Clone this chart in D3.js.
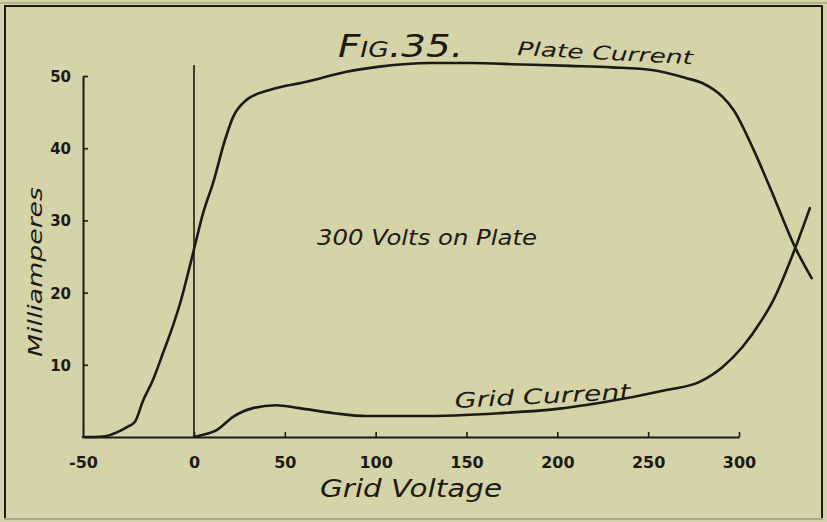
<!DOCTYPE html>
<html>
<head>
<meta charset="utf-8">
<script src="https://cdn.jsdelivr.net/npm/d3@7"></script>
<style>
  html, body { margin: 0; padding: 0; background: #d5d3a8; }
  svg { display: block; }
  .hand { font-family: "DejaVu Sans", sans-serif; font-style: italic; fill: #1d1a15; }
  .tick text { font-family: "DejaVu Sans", sans-serif; font-weight: bold; fill: #1d1a15; }
</style>
</head>
<body>
<script>
// Grid voltage tick values (volts) and plate-current tick values (milliamperes)
const voltTicks = [-50, 0, 50, 100, 150, 200, 250, 300];
const mATicks = [10, 20, 30, 40, 50];

// Plate current vs grid voltage, 300 volts on plate
const plateVolts = [-50, -45, -40, -35, -30, -26.6, -23, -18.5, -14, -9.5, -6, -3, 0, 5, 10.5, 17, 21.5, 29, 42, 62, 84, 102, 130, 152, 180, 207, 230, 253, 271, 280, 291, 297, 308, 317, 331, 340];
const plateMA    = [0, 0, 0.1, 0.6, 1.4, 2.1, 5.0, 7.9, 11.6, 15.4, 18.8, 22.3, 26, 31, 35.2, 41.1, 44.3, 46.7, 48.1, 49.2, 50.6, 51.3, 51.8, 51.8, 51.6, 51.4, 51.2, 50.8, 49.7, 49.0, 47.1, 45.3, 39.8, 34.6, 26.2, 22.0];

// Grid current vs grid voltage
const gridVolts = [0, 5, 12.7, 21.5, 32.5, 45, 58, 77, 95, 124, 168, 200, 223, 260, 278, 291, 302, 312, 319, 331, 339];
const gridMA    = [0, 0.3, 1.0, 2.8, 4.0, 4.4, 4.0, 3.3, 2.9, 2.9, 3.3, 3.9, 4.7, 6.5, 7.6, 9.7, 12.5, 16.0, 19.0, 26.2, 31.7];

const W = 827, H = 522;
const ink = "#1d1a15";

const svg = d3.select("body").append("svg")
  .attr("width", W).attr("height", H);

svg.append("rect").attr("width", W).attr("height", H).attr("fill", "#d5d3a8");

// Hand-ruled frame around the figure
const frame = svg.append("g").attr("fill", "none").attr("stroke-linecap", "square");
frame.append("line").attr("x1", 0).attr("x2", W).attr("y1", 3).attr("y2", 3)
  .attr("stroke", "#8d8b72").attr("stroke-width", 1);
frame.append("path").attr("d", `M5,518 L5,6 L822,6 L822,518`)
  .attr("stroke", ink).attr("stroke-width", 2);
frame.append("line").attr("x1", 5).attr("x2", 822).attr("y1", 519).attr("y2", 519)
  .attr("stroke", "#a9a78c").attr("stroke-width", 2);

// The hand-drawn negative-voltage section is ruled wider than the positive one
const x = d3.scaleLinear().domain([-50, 0, 300]).range([83, 194, 739]);
const y = d3.scaleLinear().domain([0, 50]).range([437, 76]);

const xAxis = d3.axisBottom(x).tickValues(voltTicks).tickSizeInner(-5).tickSizeOuter(0).tickPadding(20)
  .tickFormat(d => d);
const yAxis = d3.axisLeft(y).tickValues(mATicks).tickSizeInner(-5).tickSizeOuter(0).tickPadding(12);

const gx = svg.append("g").attr("transform", `translate(0,${y(0)})`).call(xAxis);
const gy = svg.append("g").attr("transform", `translate(${x(-50)},0)`).call(yAxis);

[gx, gy].forEach(g => {
  g.select(".domain").attr("stroke", ink).attr("stroke-width", 2);
  g.selectAll(".tick line").attr("stroke", ink).attr("stroke-width", 1.6);
});
gx.selectAll(".tick text").attr("font-size", 16);
gy.selectAll(".tick text").attr("font-size", 15).attr("dy", "0.36em");
gx.selectAll(".tick").filter(d => d === -50).select("line").remove();

// Zero grid-voltage ordinate
svg.append("line")
  .attr("x1", x(0)).attr("x2", x(0))
  .attr("y1", y(0)).attr("y2", 65)
  .attr("stroke", ink).attr("stroke-width", 1.6);

// Curves
const line = d3.line().curve(d3.curveMonotoneX);
const plate = plateVolts.map((v, i) => [x(v), y(plateMA[i])]);
const grid = gridVolts.map((v, i) => [x(v), y(gridMA[i])]);

svg.append("path").attr("d", line(plate))
  .attr("fill", "none").attr("stroke", ink).attr("stroke-width", 2.6)
  .attr("stroke-linecap", "round").attr("stroke-linejoin", "round");
svg.append("path").attr("d", line(grid))
  .attr("fill", "none").attr("stroke", ink).attr("stroke-width", 2.6)
  .attr("stroke-linecap", "round").attr("stroke-linejoin", "round");

// Lettering
const title = svg.append("text").attr("class", "hand")
  .attr("x", 338).attr("y", 57)
  .attr("textLength", 125).attr("lengthAdjust", "spacingAndGlyphs");
title.append("tspan").attr("font-size", 32).text("F");
title.append("tspan").attr("font-size", 22).text("IG");
title.append("tspan").attr("font-size", 32).text(".35.");

svg.append("text").attr("class", "hand")
  .attr("transform", "translate(517,55) rotate(3)")
  .attr("font-size", 19)
  .attr("textLength", 176).attr("lengthAdjust", "spacingAndGlyphs")
  .text("Plate  Current");

svg.append("text").attr("class", "hand")
  .attr("x", 317).attr("y", 245)
  .attr("font-size", 22)
  .attr("textLength", 220).attr("lengthAdjust", "spacingAndGlyphs")
  .text("300  Volts  on Plate");

svg.append("text").attr("class", "hand")
  .attr("transform", "translate(455,408) rotate(-3)")
  .attr("font-size", 21)
  .attr("textLength", 176).attr("lengthAdjust", "spacingAndGlyphs")
  .text("Grid  Current");

svg.append("text").attr("class", "hand")
  .attr("x", 320).attr("y", 497)
  .attr("font-size", 25)
  .attr("textLength", 182).attr("lengthAdjust", "spacingAndGlyphs")
  .text("Grid  Voltage");

svg.append("text").attr("class", "hand")
  .attr("transform", "translate(42,357) rotate(-90)")
  .attr("font-size", 20)
  .attr("textLength", 170).attr("lengthAdjust", "spacingAndGlyphs")
  .text("Milliamperes");
</script>
</body>
</html>
